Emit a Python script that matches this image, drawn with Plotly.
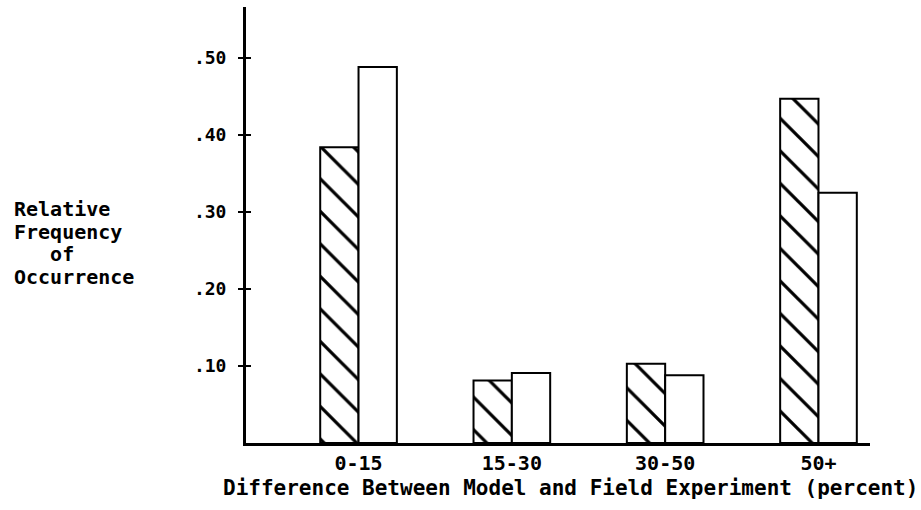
import plotly.graph_objects as go

categories = ["0-15", "15-30", "30-50", "50+"]
model_vals = [0.384, 0.081, 0.103, 0.447]   # hatched bars
field_vals = [0.488, 0.091, 0.088, 0.325]   # open bars
ytick_vals = [0.10, 0.20, 0.30, 0.40, 0.50]
ytick_text = [".10", ".20", ".30", ".40", ".50"]
ylabel_lines = ["Relative", "Frequency", "&nbsp;&nbsp;&nbsp;of", "Occurrence"]
xtitle = "Difference Between Model and Field Experiment (percent)"

FONT = "DejaVu Sans Mono"
TXT = dict(family=FONT, size=20, color="black", weight="bold")

fig = go.Figure()
fig.add_trace(go.Bar(
    x=categories, y=model_vals, name="hatched",
    marker=dict(color="white", line=dict(color="black", width=2),
                pattern=dict(shape="\\", size=23, solidity=0.14,
                             fgcolor="black", bgcolor="white",
                             fgopacity=1, fillmode="replace")),
))
fig.add_trace(go.Bar(
    x=categories, y=field_vals, name="open",
    marker=dict(color="white", line=dict(color="black", width=2)),
))
# invisible trace to carry the inner tick marks on an overlaid axis
fig.add_trace(go.Scatter(x=categories, y=model_vals, yaxis="y2",
                         mode="markers", marker=dict(opacity=0),
                         hoverinfo="skip", showlegend=False))

annotations = []
# y-axis label lines (positions)
line_y = [209, 232, 254, 277]
for txt, py in zip(ylabel_lines, line_y):
    annotations.append(dict(
        text=txt, xref="paper", yref="paper",
        x=(12 - 246) / 624, y=(443 - py) / 436,
        xanchor="left", yanchor="middle", align="left", showarrow=False,
        font=TXT,
    ))
annotations.append(dict(
    text=xtitle, xref="paper", yref="paper",
    x=(570 - 246) / 624, y=(443 - 488) / 436,
    xanchor="center", yanchor="middle", showarrow=False,
    font=dict(family=FONT, size=21, color="black", weight="bold"),
))

fig.update_layout(
    width=921, height=510,
    margin=dict(l=246, r=51, t=7, b=67),
    paper_bgcolor="white", plot_bgcolor="white",
    barmode="group", bargap=0.5, bargroupgap=0,
    showlegend=False,
    font=TXT,
    xaxis=dict(
        type="category", range=[-0.734, 3.336],
        showline=True, linewidth=3, linecolor="black",
        ticks="", showgrid=False, zeroline=False,
        tickfont=TXT,
    ),
    yaxis=dict(
        range=[0, 0.566], showline=True, linewidth=3, linecolor="black",
        showgrid=False, zeroline=False,
        tickvals=ytick_vals, ticktext=ytick_text,
        ticks="outside", ticklen=5, tickwidth=2, tickcolor="black",
        ticklabelstandoff=8,
        tickfont=dict(family=FONT, size=18, color="black", weight="bold"),
    ),
    yaxis2=dict(
        range=[0, 0.566], overlaying="y", side="left",
        showline=False, showgrid=False, zeroline=False,
        tickvals=ytick_vals, showticklabels=False,
        ticks="inside", ticklen=5, tickwidth=2, tickcolor="black",
    ),
    annotations=annotations,
)

fig.write_html("out.html", config={"displayModeBar": False},
               post_script="document.body.style.margin='0';")
